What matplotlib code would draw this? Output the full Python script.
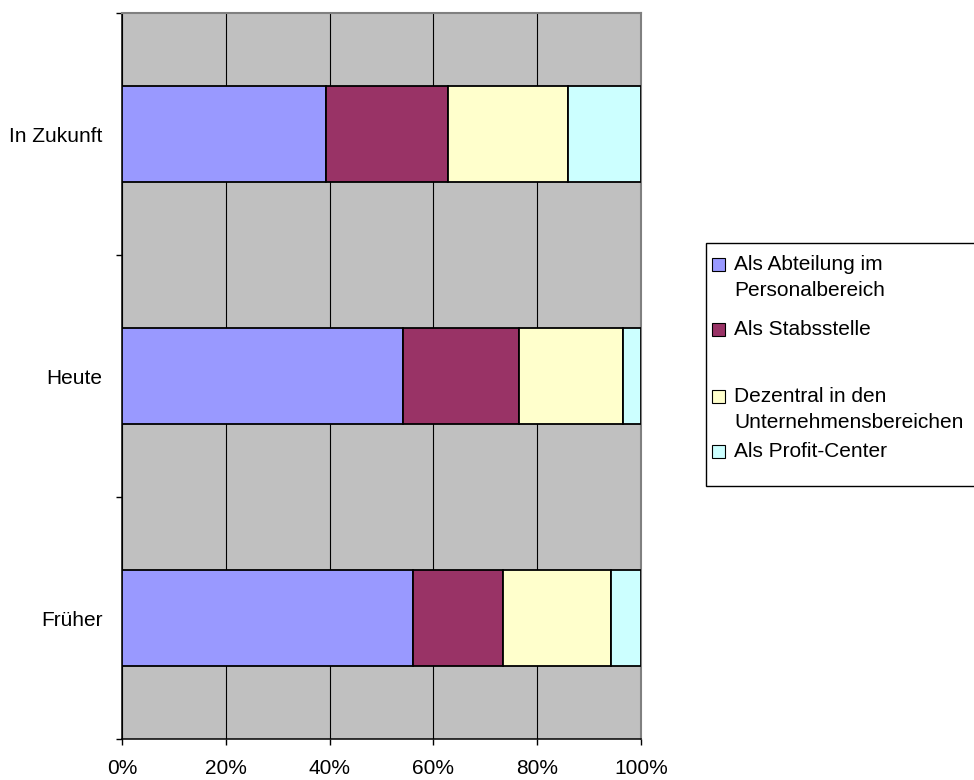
import numpy as np
import matplotlib
matplotlib.use("Agg")
from matplotlib import pyplot as plt
from matplotlib.patches import Rectangle

plt.rcParams['font.family'] = ['Liberation Sans', 'DejaVu Sans']

# data (percent shares per category, bottom to top)
categories = ["Früher", "Heute", "In Zukunft"]
series_names = ["Als Abteilung im\nPersonalbereich", "Als Stabsstelle",
                "Dezentral in den\nUnternehmensbereichen", "Als Profit-Center"]
abteilung = [56.0, 54.1, 39.3]
stabsstelle = [17.4, 22.4, 23.5]
dezentral = [20.8, 20.1, 23.2]
profit_center = [5.8, 3.4, 14.0]
colors = ["#9999FF", "#993366", "#FFFFCC", "#CCFFFF"]
xticks = [0, 20, 40, 60, 80, 100]

FS = 15
W, H = 974, 780
fig = plt.figure(figsize=(W / 100, H / 100), dpi=100)
ax = fig.add_axes([122 / W, (H - 739) / H, 519 / W, 726 / H])
ax.set_facecolor("#C0C0C0")

series = [abteilung, stabsstelle, dezentral, profit_center]
totals = np.sum(series, axis=0)
left = np.zeros(len(categories))
y = np.arange(len(categories))
for vals, col in zip(series, colors):
    share = np.array(vals) / totals * 100
    ax.barh(y, share, left=left, height=0.4, color=col, edgecolor="black",
            linewidth=1.3, zorder=3)
    left += share

ax.set_xlim(0, 100)
ax.set_ylim(-0.5, len(categories) - 0.5)
ax.set_xticks(xticks)
ax.set_xticklabels([f"{t}%" for t in xticks])
ax.set_yticks(y)
ax.set_yticklabels(categories)
ax.set_yticks(np.arange(len(categories) + 1) - 0.5, minor=True)

ax.tick_params(axis="y", which="major", length=0, pad=14, labelsize=FS)
ax.tick_params(axis="y", which="minor", length=4.5, width=1, direction="out")
ax.tick_params(axis="x", length=4.5, width=1, direction="out", pad=10,
               labelsize=FS)

# vertical gridlines
ax.grid(axis="x", color="black", linewidth=0.8, zorder=1)
ax.set_axisbelow(True)

for s in ["top", "right"]:
    ax.spines[s].set_color("#808080")
    ax.spines[s].set_linewidth(1.5)
for s in ["left", "bottom"]:
    ax.spines[s].set_color("black")
    ax.spines[s].set_linewidth(1.1)

# legend drawn by hand (Excel style)
fig.patches.append(Rectangle((706 / W, 1 - 486 / H), 290 / W, 243 / H,
                             transform=fig.transFigure, facecolor="white",
                             edgecolor="black", linewidth=1, zorder=5))
baselines = [270, 335, 402, 457]
for name, col, b in zip(series_names, colors, baselines):
    fig.patches.append(Rectangle((712 / W, 1 - (b + 1) / H), 13 / W, 13 / H,
                                 transform=fig.transFigure, facecolor=col,
                                 edgecolor="black", linewidth=0.8, zorder=6))
    for i, line in enumerate(name.split("\n")):
        fig.text(734 / W, 1 - (b + 26 * i) / H, line, fontsize=FS,
                 va="baseline", ha="left", zorder=7)

fig.savefig("out.png", dpi=100)
